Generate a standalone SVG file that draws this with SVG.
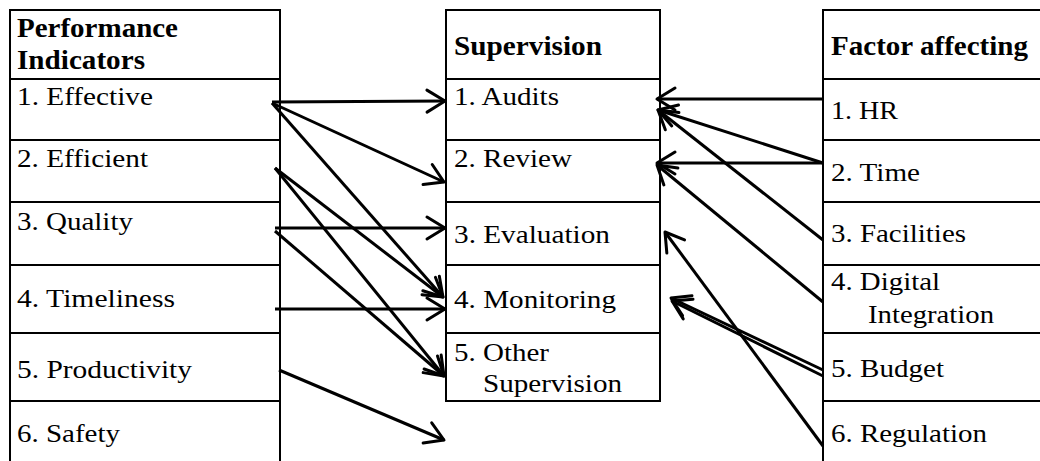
<svg xmlns="http://www.w3.org/2000/svg" width="1040" height="461" viewBox="0 0 1040 461">
<style>
.tb{fill:none;stroke:#000;stroke-width:2}
.t{font-family:"Liberation Serif","Times New Roman",serif;font-size:25px;fill:#000}
.b{font-family:"Liberation Serif","Times New Roman",serif;font-size:28px;font-weight:bold;fill:#000}
.c{stroke:#000;stroke-width:3;fill:none;marker-end:url(#ah)}
</style>
<defs>
<marker id="ah" markerUnits="userSpaceOnUse" orient="auto" viewBox="-20 -12 22 24" refX="0" refY="0" markerWidth="22" markerHeight="24" overflow="visible">
<path d="M-18,-11 L0,0 L-18,11" fill="none" stroke="#000" stroke-width="3" stroke-linecap="round" stroke-linejoin="round"/>
</marker>
</defs>
<rect width="1040" height="461" fill="#fff"/>
<g id="performance-indicators">
<path class="tb" d="M10,462 V10 H280 V462 M10,79 H280 M10,140 H280 M10,202 H280 M10,265 H280 M10,333 H280 M10,401 H280"/>
<text class="b" x="17" y="37" textLength="161" lengthAdjust="spacingAndGlyphs">Performance</text>
<text class="b" x="17" y="69" textLength="128" lengthAdjust="spacingAndGlyphs">Indicators</text>
<text class="t" x="17" y="105" textLength="136" lengthAdjust="spacingAndGlyphs">1. Effective</text>
<text class="t" x="17" y="167" textLength="131" lengthAdjust="spacingAndGlyphs">2. Efficient</text>
<text class="t" x="17" y="230" textLength="116" lengthAdjust="spacingAndGlyphs">3. Quality</text>
<text class="t" x="17" y="307" textLength="158" lengthAdjust="spacingAndGlyphs">4. Timeliness</text>
<text class="t" x="17" y="378" textLength="175" lengthAdjust="spacingAndGlyphs">5. Productivity</text>
<text class="t" x="17" y="442" textLength="103" lengthAdjust="spacingAndGlyphs">6. Safety</text>
</g>
<g id="supervision">
<path class="tb" d="M446,10 H660 V401 H446 Z M446,79 H660 M446,140 H660 M446,202 H660 M446,265 H660 M446,333 H660"/>
<text class="b" x="454" y="55" textLength="148" lengthAdjust="spacingAndGlyphs">Supervision</text>
<text class="t" x="454" y="105" textLength="105" lengthAdjust="spacingAndGlyphs">1. Audits</text>
<text class="t" x="454" y="167" textLength="118" lengthAdjust="spacingAndGlyphs">2. Review</text>
<text class="t" x="454" y="243" textLength="156" lengthAdjust="spacingAndGlyphs">3. Evaluation</text>
<text class="t" x="454" y="308" textLength="162" lengthAdjust="spacingAndGlyphs">4. Monitoring</text>
<text class="t" x="454" y="361" textLength="95" lengthAdjust="spacingAndGlyphs">5. Other</text>
<text class="t" x="483" y="392" textLength="139" lengthAdjust="spacingAndGlyphs">Supervision</text>
</g>
<g id="factor-affecting">
<path class="tb" d="M823,462 V10 H1041 M823,79 H1041 M823,140 H1041 M823,202 H1041 M823,265 H1041 M823,333 H1041 M823,401 H1041"/>
<text class="b" x="831" y="55" textLength="197" lengthAdjust="spacingAndGlyphs">Factor affecting</text>
<text class="t" x="831" y="119" textLength="67" lengthAdjust="spacingAndGlyphs">1. HR</text>
<text class="t" x="831" y="181" textLength="89" lengthAdjust="spacingAndGlyphs">2. Time</text>
<text class="t" x="831" y="242" textLength="135" lengthAdjust="spacingAndGlyphs">3. Facilities</text>
<text class="t" x="831" y="290" textLength="109" lengthAdjust="spacingAndGlyphs">4. Digital</text>
<text class="t" x="868" y="323" textLength="126" lengthAdjust="spacingAndGlyphs">Integration</text>
<text class="t" x="831" y="377" textLength="113" lengthAdjust="spacingAndGlyphs">5. Budget</text>
<text class="t" x="831" y="442" textLength="156" lengthAdjust="spacingAndGlyphs">6. Regulation</text>
</g>
<g id="connectors">
<path class="c" d="M272,102 L445,101"/>
<path class="c" d="M272,103 L444,182"/>
<path class="c" d="M272,103 L443,297"/>
<path class="c" d="M275,168 L443,297"/>
<path class="c" d="M275,168 L444,376"/>
<path class="c" d="M275,228 L445,228"/>
<path class="c" d="M275,231 L444,376"/>
<path class="c" d="M275,309 L445,309"/>
<path class="c" d="M279,370 L444,440"/>
<path class="c" d="M823,99 L657,99"/>
<path class="c" d="M823,163 L658,110"/>
<path class="c" d="M823,240 L658,110"/>
<path class="c" d="M823,163 L657,163"/>
<path class="c" d="M823,302 L657,165"/>
<path class="c" d="M823,370 L671,298"/>
<path class="c" d="M823,376 L672,301"/>
<path class="c" d="M823,446 L665,232"/>
</g>
</svg>
